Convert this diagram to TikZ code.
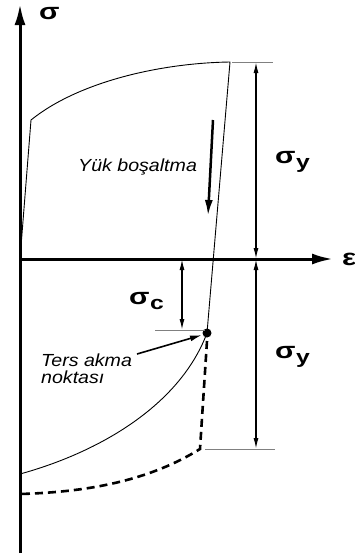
\documentclass[tikz,border=0pt]{standalone}
\usepackage{fontspec}
\setmainfont{Liberation Sans}
\newfontfamily\widef[FakeStretch=1.12]{Liberation Sans}
\newfontfamily\symf[FakeStretch=1.3]{Liberation Sans}
\newcommand{\subl}[1]{\kern0.5pt\raisebox{-5pt}{\fontsize{19}{19}\selectfont #1}}
\usetikzlibrary{arrows.meta}
\begin{document}
\begin{tikzpicture}[x=1pt,y=-1pt,
  axis/.style={line width=3pt,-{Latex[length=21pt,width=11pt]}},
  thin/.style={line width=0.9pt},
  dim/.style={line width=1.4pt,{Latex[length=11pt,width=5pt]}-{Latex[length=11pt,width=5pt]}},
  tick/.style={line width=1pt,gray},
  lbl/.style={font=\widef\fontsize{17.5}{18}\selectfont\itshape,inner sep=0pt,anchor=base west},
  sym/.style={font=\symf\fontsize{23}{24}\selectfont\bfseries,inner sep=0pt,anchor=base west}]
\useasboundingbox (0,0) rectangle (355,558);
\coordinate (O) at (20,259);
\coordinate (ybot) at (20,553);
\coordinate (ytop) at (20,4);
\coordinate (xend) at (333,259);
\coordinate (yield) at (31,120);
\coordinate (peak) at (230,62);
\coordinate (rev) at (207,333);
\coordinate (dstart) at (207,341);
\coordinate (dcorner) at (200,449);
\coordinate (dend) at (20,494);
\coordinate (send) at (20,474);
% axes
\draw[line width=3pt] (ybot) -- (O);
\draw[axis] (O) -- (ytop);
\draw[axis] (O) -- (xend);
\node[sym] (sig) at (39,19) {σ};
\node[sym] (eps) at (342,265) {ε};
% loading/unloading
\draw[thin] (O) -- (yield) .. controls (78,82) and (160,63) .. (peak) -- (rev);
\draw[thin] (rev) .. controls (180,405) and (100,452) .. (send);
\draw[line width=2.6pt,dash pattern=on 8pt off 5pt] (dstart) -- (dcorner) .. controls (150,480) and (90,492) .. (dend);
\fill (rev) circle (4.5pt);
% ticks
\coordinate (t1a) at (232,62); \coordinate (t1b) at (273,62);
\coordinate (t2a) at (205,449); \coordinate (t2b) at (275,449);
\coordinate (t3a) at (155,330); \coordinate (t3b) at (205,330);
\draw[tick] (t1a) -- (t1b);
\draw[tick] (t2a) -- (t2b);
\draw[tick] (t3a) -- (t3b);
% dimension arrows
\coordinate (d1a) at (256,62); \coordinate (d1b) at (256,259);
\coordinate (d2a) at (256,259); \coordinate (d2b) at (256,449);
\coordinate (d3a) at (182,259); \coordinate (d3b) at (182,330);
\draw[dim] (d1a) -- (d1b);
\draw[dim] (d2a) -- (d2b);
\draw[dim] (d3a) -- (d3b);
\node[sym] (sy1) at (275,163) {σ\subl{y}};
\node[sym] (sy2) at (275,358) {σ\subl{y}};
\node[sym] (sc) at (129,304) {σ\subl{c}};
% Yuk bosaltma
\node[lbl] (yb) at (78,171) {Yük boşaltma};
\coordinate (ua) at (213,120); \coordinate (ub) at (208,216);
\draw[line width=2.5pt,-{Latex[length=16pt,width=8pt]}] (ua) -- (ub);
% Ters akma
\node[lbl] (ta) at (41,366) {Ters akma};
\node[lbl] (nk) at (41,383) {noktası};
\coordinate (aa) at (137,354);
\draw[line width=1.6pt,-{Latex[length=12pt,width=6pt]}] (aa) -- (202,335);
\end{tikzpicture}
\end{document}
